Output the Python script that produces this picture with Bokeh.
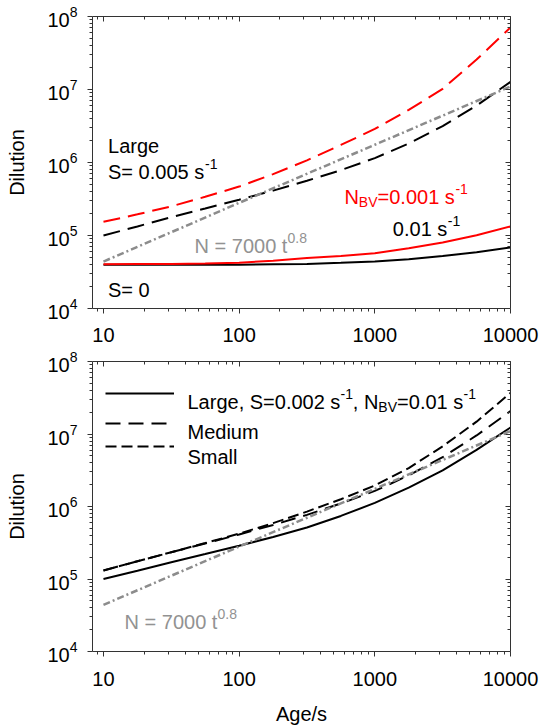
from bokeh.plotting import figure
from bokeh.layouts import column
from bokeh.models import (LogAxis, FixedTicker, NumeralTickFormatter, CustomJSTickFormatter,
                          Legend, LegendItem, Range1d)
from bokeh.core.properties import value
from bokeh.embed import file_html
from bokeh.resources import INLINE

FONT = "Liberation Sans"

# ---------------- data ----------------
age = [10, 17.8, 31.6, 56.2, 100, 178, 316, 562, 1000, 1778, 3162, 5623, 10000]

# top panel: Large, S = 0.005 s^-1 (dashed) and S = 0 (solid)
top_red_dashed = [1.54e5, 1.95e5, 2.51e5, 3.39e5, 4.68e5, 6.92e5, 1.07e6,
                  1.74e6, 2.88e6, 5.25e6, 1.02e7, 2.57e7, 7.08e7]
top_black_dashed = [1.0e5, 1.33e5, 1.78e5, 2.34e5, 3.09e5, 4.12e5, 5.62e5,
                    7.85e5, 1.15e6, 1.82e6, 3.16e6, 6.03e6, 1.27e7]
top_red_solid = [4.05e4, 4.06e4, 4.07e4, 4.14e4, 4.25e4, 4.52e4, 4.90e4,
                 5.25e4, 5.73e4, 6.68e4, 8.02e4, 1.01e5, 1.33e5]
top_black_solid = [3.98e4, 3.98e4, 3.98e4, 3.98e4, 3.98e4, 4.03e4, 4.07e4,
                   4.22e4, 4.41e4, 4.73e4, 5.25e4, 5.89e4, 6.85e4]

# bottom panel: S = 0.002 s^-1, N_BV = 0.01 s^-1
bot_large = [1.0e5, 1.30e5, 1.70e5, 2.21e5, 2.88e5, 3.80e5, 5.13e5,
             7.41e5, 1.12e6, 1.82e6, 3.16e6, 6.03e6, 1.23e7]
bot_medium = [1.31e5, 1.76e5, 2.34e5, 3.09e5, 4.12e5, 5.56e5, 7.67e5,
              1.10e6, 1.64e6, 2.69e6, 4.79e6, 9.55e6, 2.07e7]
bot_small = [1.31e5, 1.76e5, 2.34e5, 3.13e5, 4.22e5, 5.89e5, 8.51e5,
             1.26e6, 1.95e6, 3.39e6, 6.76e6, 1.48e7, 3.69e7]

# power law N = 7000 t^0.8
pl_age = [10, 100, 1000, 10000]
pl_dilution = [4.4e4, 2.8e5, 1.75e6, 1.1e7]

x_major = [10, 100, 1000, 10000]
x_minor = [k * 10 ** n for n in range(0, 4) for k in range(2, 10)]
y_major = [1e4, 1e5, 1e6, 1e7, 1e8]
y_minor = [k * 10 ** n for n in range(4, 8) for k in range(2, 10)]

RED = "#ff0000"
GRAY = "#8c8c8c"
GRAY_TXT = "#929292"


def make_fig(height, top, bottom, xlabel, tick_standoff):
    p = figure(width=547, height=height, x_axis_type="log", y_axis_type="log",
               x_range=Range1d(8.3, 10000), y_range=Range1d(1e4, 1e8),
               output_backend="svg", toolbar_location=None,
               min_border_left=92, min_border_right=37,
               min_border_top=top, min_border_bottom=bottom)
    p.grid.visible = False
    p.outline_line_color = None
    p.background_fill_color = "white"
    p.border_fill_color = "white"

    xa = p.xaxis[0]
    xa.ticker = FixedTicker(ticks=x_major, minor_ticks=x_minor)
    xa.formatter = NumeralTickFormatter(format="0")
    ya = p.yaxis[0]
    ya.ticker = FixedTicker(ticks=y_major, minor_ticks=y_minor)
    for ax in (xa, ya):
        ax.major_tick_out = 5
        ax.major_tick_in = 0
        ax.minor_tick_out = 3
        ax.minor_tick_in = 0
        ax.axis_line_color = "#333333"
        ax.major_tick_line_color = "#333333"
        ax.minor_tick_line_color = "#333333"
        ax.major_label_text_font = FONT
        ax.major_label_text_font_size = "20px"
        ax.major_label_text_color = "black"
        ax.axis_label_text_font = FONT
        ax.axis_label_text_font_size = "20px"
        ax.axis_label_text_font_style = "normal"
        ax.axis_label_text_color = "black"
    xa.major_label_standoff = tick_standoff
    ya.major_label_standoff = 10
    ya.axis_label = "Dilution"
    ya.axis_label_standoff = 16
    if xlabel:
        xa.axis_label = xlabel
        xa.axis_label_standoff = 14

    # mirrored axes with inward ticks, no labels
    blank = CustomJSTickFormatter(code="return ''")
    top_ax = LogAxis(ticker=FixedTicker(ticks=x_major, minor_ticks=x_minor), formatter=blank)
    right_ax = LogAxis(ticker=FixedTicker(ticks=y_major, minor_ticks=y_minor), formatter=blank)
    for ax in (top_ax, right_ax):
        ax.major_tick_in = 5
        ax.major_tick_out = 0
        ax.minor_tick_in = 3
        ax.minor_tick_out = 0
        ax.major_label_standoff = 0
        ax.axis_line_color = "#333333"
        ax.major_tick_line_color = "#333333"
        ax.minor_tick_line_color = "#333333"
    p.add_layout(top_ax, "above")
    p.add_layout(right_ax, "right")
    return p


def put(p, x, y, txt, color="black", size=20, dx=0, dy=0):
    p.text(x=[x], y=[y], text=[txt], text_color=color, text_font=value(FONT),
           text_font_size=value(f"{size}px"), text_baseline="alphabetic",
           text_align="left", x_offset=dx, y_offset=dy)


# ---------------- top panel ----------------
p1 = make_fig(348, 16, 40, None, 14)
p1.line(age, top_black_solid, line_color="black", line_width=2)
p1.line(age, top_red_solid, line_color=RED, line_width=2)
p1.line(age, top_black_dashed, line_color="black", line_width=2, line_dash="17 8")
p1.line(age, top_red_dashed, line_color=RED, line_width=2, line_dash="17 8")
p1.line(pl_age, pl_dilution, line_color=GRAY, line_width=2.5, line_dash="7 3 2 3")

put(p1, 10.8, 1.69e6, "Large")
put(p1, 10.8, 7.45e5, "S= 0.005 s")
put(p1, 10.8, 7.45e5, "-1", size=14, dx=97, dy=-8)
put(p1, 597, 3.34e5, "N", color=RED)
put(p1, 597, 3.34e5, "BV", color=RED, size=14, dx=14.4, dy=5)
put(p1, 597, 3.34e5, "=0.001 s", color=RED, dx=33.1)
put(p1, 597, 3.34e5, "-1", color=RED, size=14, dx=111, dy=-8)
put(p1, 1358, 1.23e5, "0.01 s")
put(p1, 1358, 1.23e5, "-1", size=14, dx=55, dy=-8)
put(p1, 46.9, 7.24e4, "N = 7000 t", color=GRAY_TXT)
put(p1, 46.9, 7.24e4, "0.8", color=GRAY_TXT, size=14, dx=93, dy=-8)
put(p1, 10.8, 1.81e4, "S= 0")

# ---------------- bottom panel ----------------
p2 = make_fig(379, 13, 73, "Age/s", 15)
r_large = p2.line(age, bot_large, line_color="black", line_width=2)
r_medium = p2.line(age, bot_medium, line_color="black", line_width=2, line_dash="15 8")
r_small = p2.line(age, bot_small, line_color="black", line_width=2, line_dash="11 5")
p2.line(pl_age, pl_dilution, line_color=GRAY, line_width=2.5, line_dash="7 3 2 3")

for r, lab, yb in ((r_large, "Large", 249.7), (r_medium, "Medium", 220.3), (r_small, "Small", 197.0)):
    leg = Legend(items=[LegendItem(label=value(lab), renderers=[r])],
                 location=(13, yb), glyph_width=69, glyph_height=16,
                 label_height=16, label_width=0, label_standoff=0,
                 padding=0, spacing=0, margin=0,
                 border_line_color=None, background_fill_alpha=0,
                 label_text_alpha=0, label_text_font_size="1px")
    p2.add_layout(leg)

put(p2, 41.6, 2.78e7, "Large, S=0.002 s")
put(p2, 41.6, 2.78e7, "-1", size=14, dx=153, dy=-8)
put(p2, 41.6, 2.78e7, ", N", dx=165.3)
put(p2, 41.6, 2.78e7, "BV", size=14, dx=190.9, dy=5)
put(p2, 41.6, 2.78e7, "=0.01 s", dx=209.6)
put(p2, 41.6, 2.78e7, "-1", size=14, dx=276, dy=-8)
put(p2, 41.6, 1.05e7, "Medium")
put(p2, 41.6, 4.79e6, "Small")
put(p2, 14.3, 2.58e4, "N = 7000 t", color=GRAY_TXT)
put(p2, 14.3, 2.58e4, "0.8", color=GRAY_TXT, size=14, dx=93, dy=-8)

layout = column(p1, p2, spacing=0)
open("out.html", "w").write(file_html(layout, INLINE))
